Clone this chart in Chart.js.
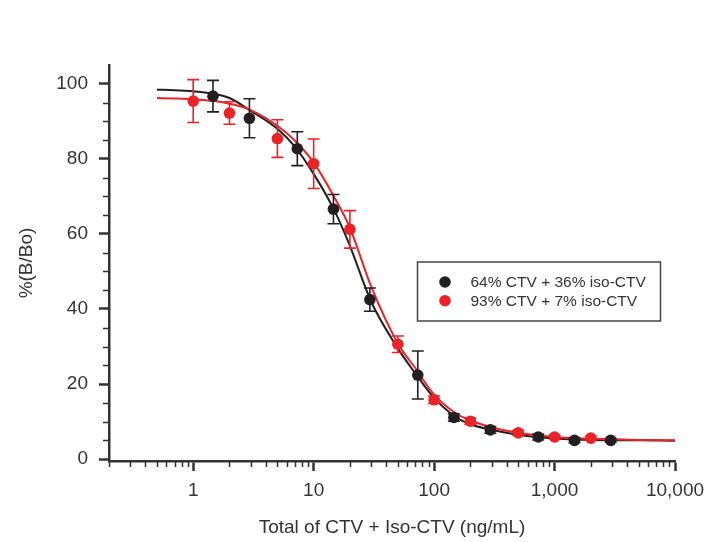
<!DOCTYPE html>
<html>
<head>
<meta charset="utf-8">
<script src="https://cdn.jsdelivr.net/npm/chart.js@4.4.1/dist/chart.umd.min.js"></script>
<style>
  html, body { margin: 0; padding: 0; background: #ffffff; }
  #wrap { width: 709px; height: 542px; position: relative; }
</style>
</head>
<body>
<div id="wrap"><canvas id="chart"></canvas></div>
<script>
// --- Data ---
const seriesLabels = ['64% CTV + 36% iso-CTV', '93% CTV + 7% iso-CTV'];

// 64% CTV + 36% iso-CTV (black)
const xBlack = [1.46, 2.93, 7.32, 14.6, 29.3, 73.2, 146, 293, 732, 1464, 2928];
const yBlack = [96.7, 90.8, 82.7, 66.6, 42.5, 22.4, 11.1, 7.8, 5.9, 5.0, 5.0];
const errBlack = [4.2, 5.2, 4.5, 3.9, 3.1, 6.4, 1.0, 0.9, 0.8, 0.6, 0.5];

// 93% CTV + 7% iso-CTV (red)
const xRed = [1, 2, 5, 10, 20, 50, 100, 200, 500, 1000, 2000];
const yRed = [95.4, 92.2, 85.4, 78.7, 61.2, 30.6, 15.8, 10.1, 7.0, 5.9, 5.6];
const errRed = [5.7, 3.0, 5.0, 6.6, 5.0, 2.2, 1.0, 0.8, 0.7, 0.5, 0.5];

// fitted curves, read at these concentrations
const fitX = [0.5, 0.7, 1, 1.5, 2, 3, 5, 7, 10, 15, 20, 30, 50, 70, 100, 150, 200, 300, 500, 700, 1000, 2000, 5000, 10000];
const fitBlack = [98.4, 98.3, 98.0, 97.3, 96.2, 92.8, 88.0, 83.2, 76.0, 66.0, 56.8, 42.0, 29.5, 22.8, 16.3, 11.3, 9.3, 7.8, 6.5, 5.9, 5.5, 5.1, 5.0, 4.9];
const fitRed = [96.2, 96.1, 95.9, 95.4, 94.7, 93.0, 88.8, 84.8, 79.0, 69.5, 61.6, 46.0, 30.8, 24.2, 17.2, 12.3, 10.3, 8.5, 7.0, 6.4, 5.9, 5.4, 5.1, 5.0];

// axes
const xTicks = [1, 10, 100, 1000, 10000];
const yTicks = [0, 20, 40, 60, 80, 100];

const BLACK = '#231f20';
const RED = '#ec2227';
const AXIS = '#333333';

const toPoints = (xs, ys) => xs.map((x, i) => ({ x: x, y: ys[i] }));

// minor tick values (2..9 of each decade, every 5 on y)
const xMinor = [];
[0.1, 1, 10, 100, 1000].forEach(d => {
    for (let k = 2; k <= 9; k++) xMinor.push(+(d * k).toPrecision(3));
});
const yMinor = [];
for (let v = 5; v < 100; v += 5) if (v % 20 !== 0) yMinor.push(v);

// --- Plugins ---
const minorTicks = {
    id: 'minorTicks',
    afterDraw(chart) {
        const { ctx, scales: { x, y }, chartArea } = chart;
        ctx.save();
        ctx.strokeStyle = AXIS;
        ctx.lineWidth = 1.5;
        ctx.beginPath();
        xMinor.forEach(v => {
            if (v < x.min || v > x.max) return;
            const px = Math.round(x.getPixelForValue(v)) + 0.5;
            ctx.moveTo(px, chartArea.bottom);
            ctx.lineTo(px, chartArea.bottom + 6);
        });
        yMinor.forEach(v => {
            const py = Math.round(y.getPixelForValue(v)) + 0.5;
            ctx.moveTo(chartArea.left, py);
            ctx.lineTo(chartArea.left - 6, py);
        });
        ctx.stroke();
        ctx.restore();
    }
};

const errorBars = {
    id: 'errorBars',
    beforeDatasetDraw(chart, args) {
        const ds = chart.data.datasets[args.index];
        if (!ds.errors) return;
        const { ctx, scales: { y } } = chart;
        ctx.save();
        ctx.strokeStyle = ds.borderColor;
        ctx.lineWidth = 1.6;
        ctx.beginPath();
        args.meta.data.forEach((pt, i) => {
            const val = ds.data[i].y;
            const top = y.getPixelForValue(val + ds.errors[i]);
            const bot = y.getPixelForValue(val - ds.errors[i]);
            ctx.moveTo(pt.x, top);
            ctx.lineTo(pt.x, bot);
            ctx.moveTo(pt.x - 6, top);
            ctx.lineTo(pt.x + 6, top);
            ctx.moveTo(pt.x - 6, bot);
            ctx.lineTo(pt.x + 6, bot);
        });
        ctx.stroke();
        ctx.restore();
    }
};

const boxLegend = {
    id: 'boxLegend',
    afterDraw(chart, args, opts) {
        const { ctx } = chart;
        const items = chart.data.datasets.filter(d => d.errors);
        ctx.save();
        ctx.fillStyle = '#ffffff';
        ctx.fillRect(opts.left, opts.top, opts.width, opts.height);
        ctx.strokeStyle = '#444444';
        ctx.lineWidth = 1.5;
        ctx.strokeRect(opts.left, opts.top, opts.width, opts.height);
        ctx.font = '15.5px "Liberation Sans", Arial, sans-serif';
        ctx.textBaseline = 'middle';
        items.forEach((d, i) => {
            const cy = opts.top + opts.firstRow + i * opts.rowGap;
            ctx.fillStyle = d.backgroundColor;
            ctx.beginPath();
            ctx.arc(opts.left + opts.dotX, cy, 5.8, 0, Math.PI * 2);
            ctx.fill();
            ctx.fillStyle = '#333333';
            ctx.fillText(d.label, opts.left + opts.textX, cy + 1);
        });
        ctx.restore();
    }
};

// --- Chart ---
Chart.defaults.font.family = '"Liberation Sans", Arial, Helvetica, sans-serif';
Chart.defaults.color = '#333333';

new Chart(document.getElementById('chart'), {
    type: 'scatter',
    data: {
        datasets: [
            {
                label: seriesLabels[0],
                data: toPoints(xBlack, yBlack),
                errors: errBlack,
                backgroundColor: BLACK,
                borderColor: BLACK,
                pointRadius: 5.8,
                pointBorderWidth: 0,
                showLine: false,
                order: 1
            },
            {
                label: seriesLabels[1],
                data: toPoints(xRed, yRed),
                errors: errRed,
                backgroundColor: RED,
                borderColor: RED,
                pointRadius: 5.8,
                pointBorderWidth: 0,
                showLine: false,
                order: 0
            },
            {
                label: 'fit black',
                data: toPoints(fitX, fitBlack),
                borderColor: BLACK,
                borderWidth: 2,
                pointRadius: 0,
                showLine: true,
                cubicInterpolationMode: 'monotone',
                order: 3
            },
            {
                label: 'fit red',
                data: toPoints(fitX, fitRed),
                borderColor: RED,
                borderWidth: 2,
                pointRadius: 0,
                showLine: true,
                cubicInterpolationMode: 'monotone',
                order: 2
            }
        ]
    },
    options: {
        responsive: true,
        maintainAspectRatio: false,
        animation: false,
        layout: { padding: { left: 0, top: 65, right: 34, bottom: 0 } },
        plugins: {
            legend: { display: false },
            tooltip: { enabled: false },
            boxLegend: {
                left: 417.5, top: 262, width: 243, height: 59,
                dotX: 27.5, textX: 53, firstRow: 20, rowGap: 18.7
            }
        },
        scales: {
            x: {
                type: 'logarithmic',
                min: 0.2,
                max: 10000,
                afterBuildTicks: (scale) => { scale.ticks = xTicks.map(v => ({ value: v, major: true })); },
                afterFit: (scale) => {
                    scale.height = 81;
                    scale.paddingLeft = 0;
                    scale.paddingRight = 0;
                },
                ticks: {
                    autoSkip: false,
                    maxRotation: 0,
                    padding: 8,
                    font: { size: 19 },
                    color: '#333333',
                    callback: (v) => Number(v).toLocaleString('en-US')
                },
                grid: {
                    drawOnChartArea: false,
                    drawTicks: true,
                    tickLength: 10,
                    tickWidth: 2.5,
                    tickColor: AXIS
                },
                border: { display: true, color: AXIS, width: 2.5 },
                title: {
                    display: true,
                    text: 'Total of CTV + Iso-CTV (ng/mL)',
                    font: { size: 19 },
                    color: '#333333',
                    padding: { top: 0, bottom: 3 }
                }
            },
            y: {
                min: -0.5,
                max: 105,
                afterBuildTicks: (scale) => { scale.ticks = yTicks.map(v => ({ value: v })); },
                afterFit: (scale) => { scale.width = 109; },
                ticks: {
                    padding: 11,
                    font: { size: 19 },
                    color: '#333333'
                },
                grid: {
                    drawOnChartArea: false,
                    drawTicks: true,
                    tickLength: 10,
                    tickWidth: 2.5,
                    tickColor: AXIS
                },
                border: { display: true, color: AXIS, width: 2.5 },
                title: {
                    display: true,
                    text: '%(B/Bo)',
                    font: { size: 19 },
                    color: '#333333',
                    padding: { top: 15, bottom: 0 }
                }
            }
        }
    },
    plugins: [minorTicks, errorBars, boxLegend]
});
</script>
</body>
</html>
